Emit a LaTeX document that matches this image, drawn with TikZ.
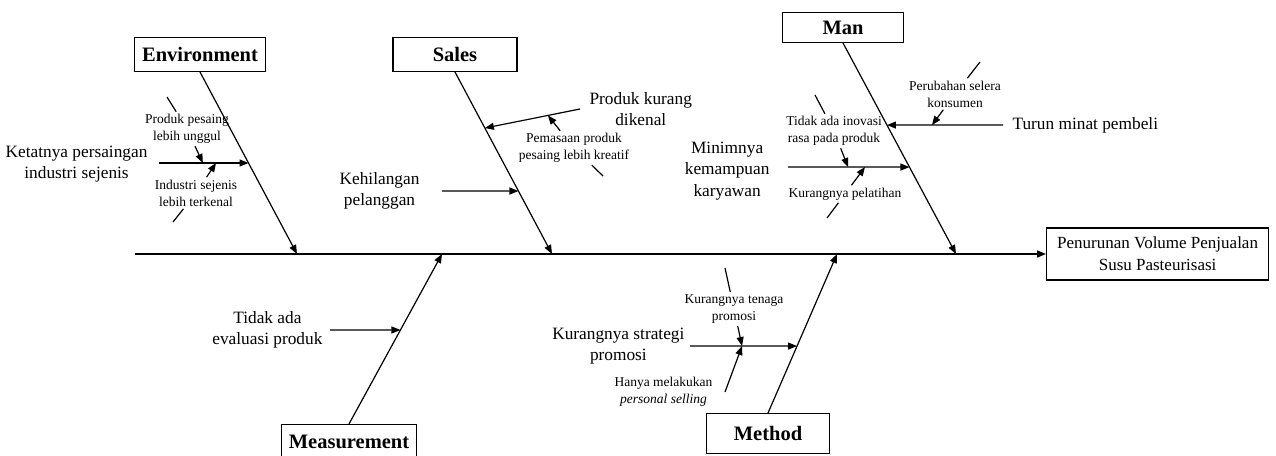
\documentclass[tikz,border=0pt]{standalone}
\usepackage{fontspec}
\setmainfont{Liberation Serif}
\usepackage{tikz}
\usetikzlibrary{positioning}
\usetikzlibrary{calc}
\usetikzlibrary{arrows.meta}

\begin{document}
\begin{tikzpicture}[
        x=1pt, y=-1pt, line width=1.2pt,
        >={Triangle[length=9pt, width=7pt]},
        catbox/.style={rectangle, draw, fill=white, inner sep=3pt, minimum height=34pt, font=\fontsize{20.5}{24}\selectfont\bfseries},
        effectbox/.style={rectangle, draw, align=center, minimum width=222pt, minimum height=52pt, font=\fontsize{17}{22}\selectfont},
        causelabel/.style={align=center, inner sep=2pt, font=\fontsize{17.3}{21.5}\selectfont},
        sublabel/.style={align=center, inner sep=2pt, font=\fontsize{13.5}{17}\selectfont},
    ]
    \useasboundingbox (0,0) rectangle (1276,455);

    %Nodes
    \node[catbox, minimum width=131pt, anchor=south]                       (env)    at (200,72)   {Environment};
    \node[catbox, minimum width=124pt, anchor=south]                       (sales)  at (455,72)   {Sales};
    \node[catbox, minimum width=121pt, minimum height=30pt, anchor=south]  (man)    at (843,43)   {Man};
    \node[catbox, minimum width=135pt, anchor=north]                       (meas)   at (349,424)  {Measurement};
    \node[catbox, minimum width=123pt, minimum height=40pt, anchor=north]  (meth)   at (768,413)  {Method};
    \node[effectbox, anchor=west]                                          (effect) at (1046,254) {Penurunan Volume Penjualan\\Susu Pasteurisasi};

    %Spine and bones
    \coordinate (tail)      at (135,254);
    \coordinate (envhead)   at (297,254);
    \coordinate (saleshead) at (552,254);
    \coordinate (manhead)   at (956,254);
    \coordinate (meashead)  at (442,254);
    \coordinate (methhead)  at (837,254);

    \draw[->, line width=1.5pt] (tail) -- (effect.west);
    \draw[->] (env.south)   -- (envhead);
    \draw[->] (sales.south) -- (saleshead);
    \draw[->] (man.south)   -- (manhead);
    \draw[->] (meas.north)  -- (meashead);
    \draw[->] (meth.north)  -- (methhead);

    %Causes
    \coordinate (ketatstart)    at (159,163);
    \coordinate (dikenalstart)  at (580,109);
    \coordinate (hilangstart)   at (442,191);
    \coordinate (minatstart)    at (1003,125);
    \coordinate (minimstart)    at (788,167);
    \coordinate (evalstart)     at (330,330);
    \coordinate (strategistart) at (690,346);

    \coordinate (ketattip)    at ($(env.south)!0.5!(envhead)$);
    \coordinate (dikenaltip)  at ($(sales.south)!0.308!(saleshead)$);
    \coordinate (hilangtip)   at ($(sales.south)!0.654!(saleshead)$);
    \coordinate (minattip)    at ($(man.south)!0.389!(manhead)$);
    \coordinate (minimtip)    at ($(man.south)!0.588!(manhead)$);
    \coordinate (evaltip)     at ($(meas.north)!0.553!(meashead)$);
    \coordinate (strategitip) at ($(meth.north)!0.421!(methhead)$);

    \node[causelabel] (ketat)    [left=9pt of ketatstart, yshift=-1pt]    {Ketatnya persaingan\\industri sejenis};
    \node[causelabel] (dikenal)  [right=7pt of dikenalstart]              {Produk kurang\\dikenal};
    \node[causelabel] (hilang)   [left=20pt of hilangstart]               {Kehilangan\\pelanggan};
    \node[causelabel] (minat)    [right=7pt of minatstart]                {Turun minat pembeli};
    \node[causelabel] (minim)    [left=16pt of minimstart, yshift=-4pt]   {Minimnya\\kemampuan\\karyawan};
    \node[causelabel] (eval)     [left=5pt of evalstart]                  {Tidak ada\\evaluasi produk};
    \node[causelabel] (strategi) [left=3pt of strategistart]              {Kurangnya strategi\\promosi};

    \draw[->] (ketatstart)    -- (ketattip);
    \draw[->] (dikenalstart)  -- (dikenaltip);
    \draw[->] (hilangstart)   -- (hilangtip);
    \draw[->] (minatstart)    -- (minattip);
    \draw[->] (minimstart)    -- (minimtip);
    \draw[->] (evalstart)     -- (evaltip);
    \draw[->] (strategistart) -- (strategitip);

    %Sub causes
    \coordinate (unggulfrom)    at (167,97);
    \coordinate (terkenalfrom)  at (173,222);
    \coordinate (kreatiffrom)   at (603,176);
    \coordinate (selerafrom)    at (980,62);
    \coordinate (inovasifrom)   at (815,95);
    \coordinate (pelatihanfrom) at (827,218);
    \coordinate (tenagafrom)    at (725,268);
    \coordinate (hanyafrom)     at (725,392);

    \coordinate (unggultip)    at ($(ketatstart)!0.49!(ketattip)$);
    \coordinate (terkenaltip)  at ($(ketatstart)!0.637!(ketattip)$);
    \coordinate (kreatiftip)   at ($(dikenalstart)!0.337!(dikenaltip)$);
    \coordinate (seleratip)    at ($(minatstart)!0.612!(minattip)$);
    \coordinate (inovasitip)   at ($(minimstart)!0.494!(minimtip)$);
    \coordinate (pelatihantip) at ($(minimstart)!0.634!(minimtip)$);
    \coordinate (promositip)   at ($(strategistart)!0.486!(strategitip)$);

    \node[sublabel] (unggul)    at (187,129) {Produk pesaing\\lebih unggul};
    \node[sublabel] (terkenal)  at (196,193) {Industri sejenis\\lebih terkenal};
    \node[sublabel] (kreatif)   at (574,148) {Pemasaan produk\\pesaing lebih kreatif};
    \node[sublabel] (selera)    at (955,94)  {Perubahan selera\\konsumen};
    \node[sublabel] (inovasi)   at (834,131) {Tidak ada inovasi\\rasa pada produk};
    \node[sublabel] (pelatihan) at (845,194) {Kurangnya pelatihan};
    \node[sublabel] (tenaga)    at (734,309) {Kurangnya tenaga\\promosi};
    \node[sublabel] (hanya)     [left=10pt of hanyafrom] {Hanya melakukan\\\textit{personal selling}};

    \draw (unggulfrom) -- (unggul);       \draw[->] (unggul) -- (unggultip);
    \draw (terkenalfrom) -- (terkenal);   \draw[->] (terkenal) -- (terkenaltip);
    \draw (kreatiffrom) -- (kreatif);     \draw[->] (kreatif) -- (kreatiftip);
    \draw (selerafrom) -- (selera);       \draw[->] (selera) -- (seleratip);
    \draw (inovasifrom) -- (inovasi);     \draw[->] (inovasi) -- (inovasitip);
    \draw (pelatihanfrom) -- (pelatihan); \draw[->] (pelatihan) -- (pelatihantip);
    \draw (tenagafrom) -- (tenaga);       \draw[->] (tenaga) -- (promositip);
    \draw[->] (hanyafrom) -- (promositip);
\end{tikzpicture}
\end{document}
